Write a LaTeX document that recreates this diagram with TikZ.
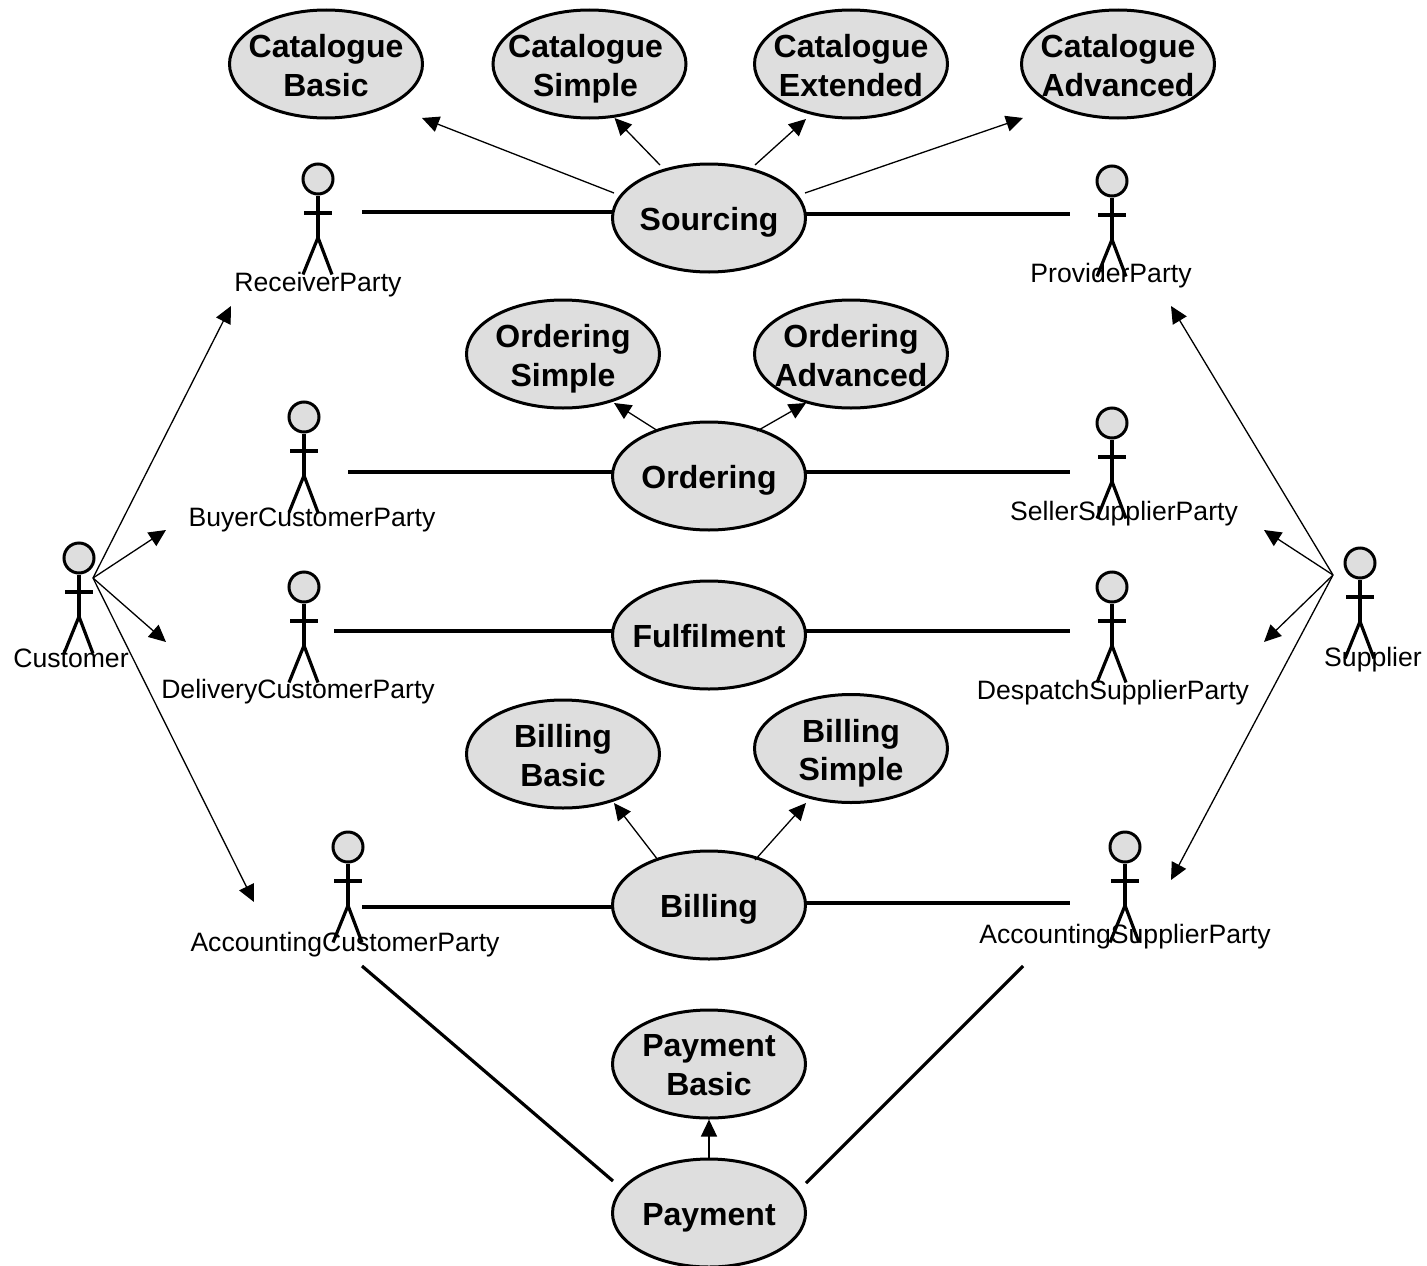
\documentclass[tikz,border=0pt]{standalone}
\usepackage{fontspec}
\setmainfont{Liberation Sans}
\usetikzlibrary{arrows.meta,shapes.geometric}
\tikzset{
  usecase/.style={ellipse,draw=black,fill=black!13,line width=3pt,minimum width=193pt,minimum height=108pt,inner sep=0pt},
  uctext/.style={inner sep=0pt,align=center,yshift=-5pt,font=\fontsize{32}{38.5}\selectfont\bfseries,execute at begin node=\strut,execute at end node=\strut},
  uctwo/.style={uctext,yshift=-2pt},
  head/.style={circle,draw=black,fill=black!13,line width=3pt,minimum size=30pt,inner sep=0pt},
  limb/.style={line width=3.2pt},
  actorname/.style={font=\fontsize{26.6}{30}\selectfont,inner sep=0pt,anchor=base},
  assoc/.style={line width=3.2pt},
  gen/.style={line width=1.3pt,-{Triangle[length=17pt,width=16pt]}}
}
\newcommand{\actorfig}[3]{%
  \node[head] (#1) at (#2,#3) {};
  \draw[limb] (#1.south) -- ++(0,42) coordinate (#1hip);
  \draw[limb] ([shift={(-14,34)}]#1.center) -- ++(28,0);
  \draw[limb] ([shift={(-15,37)}]#1hip) -- (#1hip) -- ([shift={(14,37)}]#1hip);
}
\begin{document}
\begin{tikzpicture}[x=1pt,y=-1pt]
\useasboundingbox (0,0) rectangle (1427,1266);
% use cases
\node[usecase,label={[uctwo]center:Catalogue\\Basic}] (catBasic) at (326,64) {};
\node[usecase,label={[uctwo,xshift=-4pt]center:Catalogue\\Simple}] (catSimple) at (589.5,64) {};
\node[usecase,label={[uctwo]center:Catalogue\\Extended}] (catExt) at (851,64) {};
\node[usecase,label={[uctwo]center:Catalogue\\Advanced}] (catAdv) at (1118,64) {};
\node[usecase,label={[uctext]center:Sourcing}] (sourcing) at (709,218) {};
\node[usecase,label={[uctwo]center:Ordering\\Simple}] (ordSimple) at (563,354) {};
\node[usecase,label={[uctwo]center:Ordering\\Advanced}] (ordAdv) at (851,354) {};
\node[usecase,label={[uctext]center:Ordering}] (ordering) at (709,476) {};
\node[usecase,label={[uctext]center:Fulfilment}] (fulfil) at (709,635) {};
\node[usecase,label={[uctwo]center:Billing\\Basic}] (billBasic) at (563,754) {};
\node[usecase,label={[uctwo]center:Billing\\Simple}] (billSimple) at (851,748.5) {};
\node[usecase,label={[uctext]center:Billing}] (billing) at (709,905) {};
\node[usecase,label={[uctwo]center:Payment\\Basic}] (payBasic) at (709,1064) {};
\node[usecase,label={[uctext]center:Payment}] (payment) at (709,1213) {};
% actors
\actorfig{customer}{79}{558}
\actorfig{receiver}{318}{179}
\actorfig{buyer}{304}{417}
\actorfig{delivery}{304}{587}
\actorfig{acctCust}{348}{847}
\actorfig{provider}{1112}{181}
\actorfig{seller}{1112}{423}
\actorfig{despatch}{1112}{587}
\actorfig{acctSupp}{1125}{847}
\actorfig{supplier}{1360}{563}
% actor names
\node[actorname] (customerN) at (71,667) {Customer};
\node[actorname] (receiverN) at (318,291) {ReceiverParty};
\node[actorname] (buyerN) at (312,526) {BuyerCustomerParty};
\node[actorname] (deliveryN) at (298,698) {DeliveryCustomerParty};
\node[actorname] (acctCustN) at (345,951) {AccountingCustomerParty};
\node[actorname] (providerN) at (1111,282) {ProviderParty};
\node[actorname] (sellerN) at (1124,520) {SellerSupplierParty};
\node[actorname] (despatchN) at (1113,699) {DespatchSupplierParty};
\node[actorname] (acctSuppN) at (1125,943) {AccountingSupplierParty};
\node[actorname] (supplierN) at (1373,666) {Supplier};
% associations
\draw[assoc] ([shift={(44,33)}]receiver.center) -- ([shift={(-96,-6)}]sourcing.center);
\draw[assoc] ([shift={(97,-4)}]sourcing.center) -- ([shift={(-42,33)}]provider.center);
\draw[assoc] ([shift={(44,55)}]buyer.center) -- ([shift={(-96,-4)}]ordering.center);
\draw[assoc] ([shift={(97,-4)}]ordering.center) -- ([shift={(-42,49)}]seller.center);
\draw[assoc] ([shift={(30,44)}]delivery.center) -- ([shift={(-96,-4)}]fulfil.center);
\draw[assoc] ([shift={(97,-4)}]fulfil.center) -- ([shift={(-42,44)}]despatch.center);
\draw[assoc] ([shift={(14,60)}]acctCust.center) -- ([shift={(-96,2)}]billing.center);
\draw[assoc] ([shift={(97,-2)}]billing.center) -- ([shift={(-55,56)}]acctSupp.center);
\draw[assoc] ([shift={(14,119)}]acctCust.center) -- ([shift={(-96,-32)}]payment.center);
\draw[assoc] ([shift={(97,-30)}]payment.center) -- ([shift={(-102,119)}]acctSupp.center);
% generalisations between use cases
\draw[gen] ([shift={(-95,-25)}]sourcing.center) -- ([shift={(96,54)}]catBasic.center);
\draw[gen] ([shift={(-49,-53)}]sourcing.center) -- ([shift={(25,54)}]catSimple.center);
\draw[gen] ([shift={(46,-53)}]sourcing.center) -- ([shift={(-45,55)}]catExt.center);
\draw[gen] ([shift={(96,-25)}]sourcing.center) -- ([shift={(-95,54)}]catAdv.center);
\draw[gen] ([shift={(-51,-45)}]ordering.center) -- ([shift={(51,49)}]ordSimple.center);
\draw[gen] ([shift={(48,-45)}]ordering.center) -- ([shift={(-45,49)}]ordAdv.center);
\draw[gen] ([shift={(-51,-45)}]billing.center) -- ([shift={(51,49)}]billBasic.center);
\draw[gen] ([shift={(46,-45)}]billing.center) -- ([shift={(-45,54.5)}]billSimple.center);
\draw[gen] (payment.north) -- (payBasic.south);
% generalisations between actors
\coordinate (custHub) at (93,578);
\coordinate (suppHub) at (1333,575);
\draw[gen] (custHub) -- ([shift={(-87,15)}]receiverN.base);
\draw[gen] (custHub) -- ([shift={(-146,4)}]buyerN.base);
\draw[gen] (custHub) -- ([shift={(-132,-56)}]deliveryN.base);
\draw[gen] (custHub) -- ([shift={(-91,-49)}]acctCustN.base);
\draw[gen] (suppHub) -- ([shift={(60,24)}]providerN.base);
\draw[gen] (suppHub) -- ([shift={(140,10)}]sellerN.base);
\draw[gen] (suppHub) -- ([shift={(151,-57)}]despatchN.base);
\draw[gen] (suppHub) -- ([shift={(46,-63)}]acctSuppN.base);
\end{tikzpicture}
\end{document}
